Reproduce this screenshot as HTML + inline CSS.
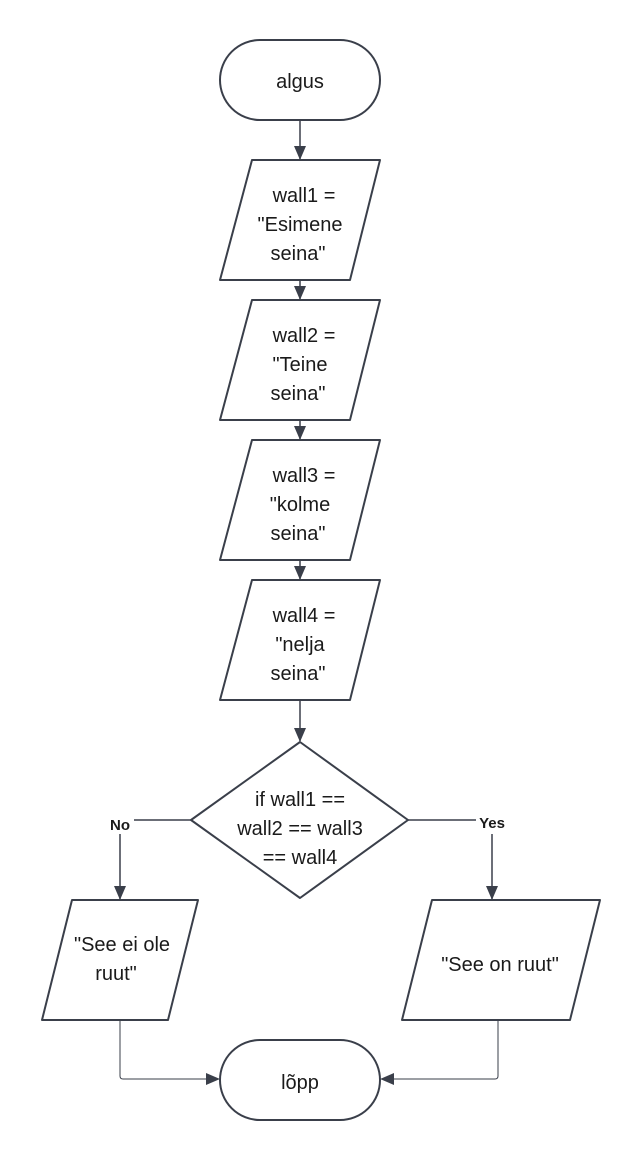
<!DOCTYPE html>
<html><head><meta charset="utf-8"><style>
html,body{margin:0;padding:0;background:#fff;}
svg{display:block;}
text{font-family:"Liberation Sans",sans-serif;fill:#1a1a1a;}
</style></head><body>
<svg width="640" height="1160" viewBox="0 0 640 1160" xmlns="http://www.w3.org/2000/svg">
<defs>
<marker id="a" markerWidth="14" markerHeight="12" refX="13" refY="6" orient="auto" markerUnits="userSpaceOnUse">
<path d="M0,0 L14,6 L0,12 z" fill="#3a3f4a"/>
</marker>
</defs>
<g fill="#fff" stroke="#3a3f4a" stroke-width="2" stroke-linejoin="round">
<rect x="220" y="40" width="160" height="80" rx="40"/>
<path d="M252,160 L380,160 L350,280 L220,280 Z"/>
<path d="M252,300 L380,300 L350,420 L220,420 Z"/>
<path d="M252,440 L380,440 L350,560 L220,560 Z"/>
<path d="M252,580 L380,580 L350,700 L220,700 Z"/>
<path d="M300,742 L408,820 L300,898 L191,820 Z"/>
<path d="M72,900 L198,900 L168,1020 L42,1020 Z"/>
<path d="M432,900 L600,900 L570,1020 L402,1020 Z"/>
<rect x="220" y="1040" width="160" height="80" rx="40"/>
</g>
<g stroke="#3a3f4a" stroke-width="1.5" fill="none">
<line x1="300" y1="120" x2="300" y2="159" marker-end="url(#a)"/>
<line x1="300" y1="280" x2="300" y2="299" marker-end="url(#a)"/>
<line x1="300" y1="420" x2="300" y2="439" marker-end="url(#a)"/>
<line x1="300" y1="560" x2="300" y2="579" marker-end="url(#a)"/>
<line x1="300" y1="700" x2="300" y2="741" marker-end="url(#a)"/>
<line x1="191" y1="820" x2="134" y2="820"/>
<line x1="120" y1="834" x2="120" y2="899" marker-end="url(#a)"/>
<line x1="408" y1="820" x2="476" y2="820"/>
<line x1="492" y1="834" x2="492" y2="899" marker-end="url(#a)"/>
<path d="M120,1020 L120,1076 Q120,1079 123,1079 L219,1079" stroke-width="1" marker-end="url(#a)"/>
<path d="M498,1020 L498,1076 Q498,1079 495,1079 L381,1079" stroke-width="1" marker-end="url(#a)"/>
</g>
<g font-size="20" text-anchor="middle">
<text x="300" y="88">algus</text>
<text x="304" y="202">wall1 =</text>
<text x="300" y="231">"Esimene</text>
<text x="298" y="260">seina"</text>
<text x="304" y="342">wall2 =</text>
<text x="300" y="371">"Teine</text>
<text x="298" y="400">seina"</text>
<text x="304" y="482">wall3 =</text>
<text x="300" y="511">"kolme</text>
<text x="298" y="540">seina"</text>
<text x="304" y="622">wall4 =</text>
<text x="300" y="651">"nelja</text>
<text x="298" y="680">seina"</text>
<text x="300" y="806">if wall1 ==</text>
<text x="300" y="835">wall2 == wall3</text>
<text x="300" y="864">== wall4</text>
<text x="122" y="951">"See ei ole</text>
<text x="116" y="980">ruut"</text>
<text x="500" y="971">"See on ruut"</text>
<text x="300" y="1089">lõpp</text>
</g>
<g font-size="15" font-weight="bold" text-anchor="middle">
<text x="120" y="830" fill="#3a3f4a">No</text>
<text x="492" y="828" fill="#3a3f4a">Yes</text>
</g>
</svg>
</body></html>
